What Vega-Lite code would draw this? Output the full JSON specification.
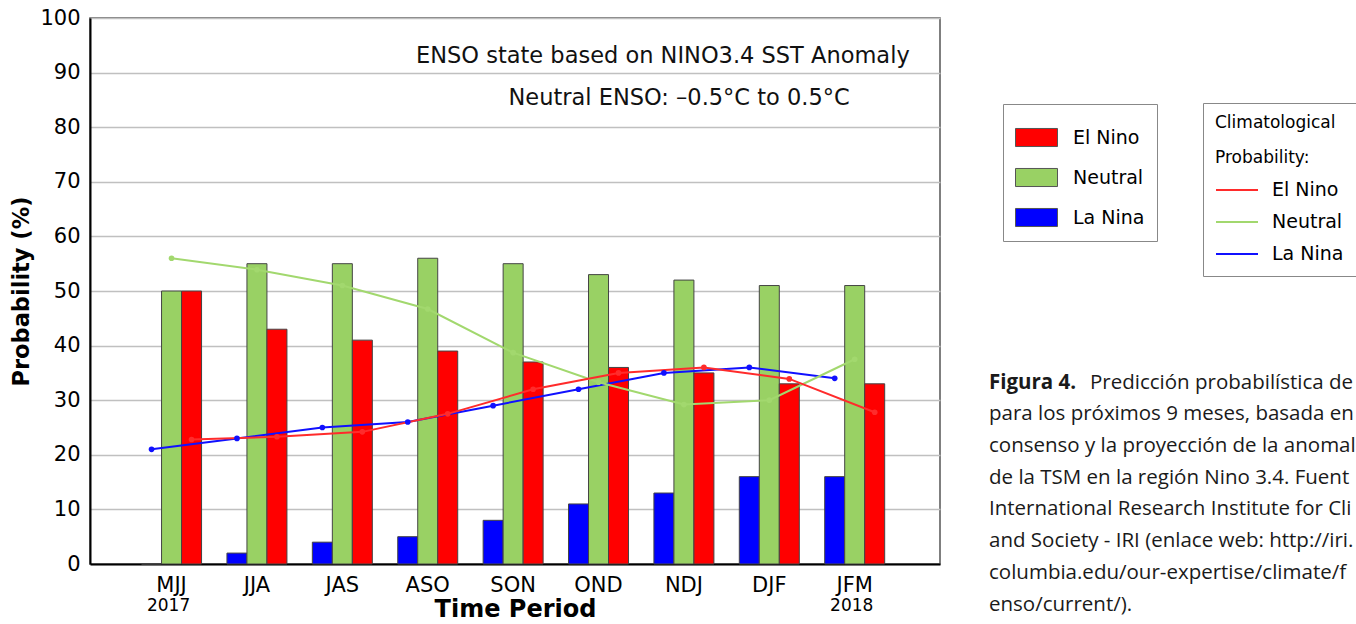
{
  "$schema": "https://vega.github.io/schema/vega-lite/v6.json",
  "background": "white",
  "padding": {"left": 10, "top": 6, "right": 0, "bottom": 0},
  "bounds": "flush",
  "spacing": 49,
  "config": {
    "font": "DejaVu Sans",
    "view": {"stroke": null},
    "axis": {"labelFont": "DejaVu Sans", "titleFont": "DejaVu Sans", "labelColor": "#000", "titleColor": "#000"},
    "legend": {"labelFont": "DejaVu Sans", "titleFont": "DejaVu Sans", "labelColor": "#000", "titleColor": "#000"}
  },
  "datasets": {
    "forecast": [
      {"period": "MJJ", "category": "La Nina", "prob": 0},
      {"period": "MJJ", "category": "Neutral", "prob": 50},
      {"period": "MJJ", "category": "El Nino", "prob": 50},
      {"period": "JJA", "category": "La Nina", "prob": 2},
      {"period": "JJA", "category": "Neutral", "prob": 55},
      {"period": "JJA", "category": "El Nino", "prob": 43},
      {"period": "JAS", "category": "La Nina", "prob": 4},
      {"period": "JAS", "category": "Neutral", "prob": 55},
      {"period": "JAS", "category": "El Nino", "prob": 41},
      {"period": "ASO", "category": "La Nina", "prob": 5},
      {"period": "ASO", "category": "Neutral", "prob": 56},
      {"period": "ASO", "category": "El Nino", "prob": 39},
      {"period": "SON", "category": "La Nina", "prob": 8},
      {"period": "SON", "category": "Neutral", "prob": 55},
      {"period": "SON", "category": "El Nino", "prob": 37},
      {"period": "OND", "category": "La Nina", "prob": 11},
      {"period": "OND", "category": "Neutral", "prob": 53},
      {"period": "OND", "category": "El Nino", "prob": 36},
      {"period": "NDJ", "category": "La Nina", "prob": 13},
      {"period": "NDJ", "category": "Neutral", "prob": 52},
      {"period": "NDJ", "category": "El Nino", "prob": 35},
      {"period": "DJF", "category": "La Nina", "prob": 16},
      {"period": "DJF", "category": "Neutral", "prob": 51},
      {"period": "DJF", "category": "El Nino", "prob": 33},
      {"period": "JFM", "category": "La Nina", "prob": 16},
      {"period": "JFM", "category": "Neutral", "prob": 51},
      {"period": "JFM", "category": "El Nino", "prob": 33}
    ],
    "climatology": [
      {"period": "MJJ", "i": 1, "series": "La Nina", "clim": 21},
      {"period": "MJJ", "i": 1, "series": "Neutral", "clim": 56},
      {"period": "MJJ", "i": 1, "series": "El Nino", "clim": 22.8},
      {"period": "JJA", "i": 2, "series": "La Nina", "clim": 23},
      {"period": "JJA", "i": 2, "series": "Neutral", "clim": 53.9},
      {"period": "JJA", "i": 2, "series": "El Nino", "clim": 23.3},
      {"period": "JAS", "i": 3, "series": "La Nina", "clim": 25},
      {"period": "JAS", "i": 3, "series": "Neutral", "clim": 51},
      {"period": "JAS", "i": 3, "series": "El Nino", "clim": 24.2},
      {"period": "ASO", "i": 4, "series": "La Nina", "clim": 26},
      {"period": "ASO", "i": 4, "series": "Neutral", "clim": 46.7},
      {"period": "ASO", "i": 4, "series": "El Nino", "clim": 27.5},
      {"period": "SON", "i": 5, "series": "La Nina", "clim": 29},
      {"period": "SON", "i": 5, "series": "Neutral", "clim": 38.7},
      {"period": "SON", "i": 5, "series": "El Nino", "clim": 32},
      {"period": "OND", "i": 6, "series": "La Nina", "clim": 32},
      {"period": "OND", "i": 6, "series": "Neutral", "clim": 33.3},
      {"period": "OND", "i": 6, "series": "El Nino", "clim": 35},
      {"period": "NDJ", "i": 7, "series": "La Nina", "clim": 35},
      {"period": "NDJ", "i": 7, "series": "Neutral", "clim": 29.2},
      {"period": "NDJ", "i": 7, "series": "El Nino", "clim": 36},
      {"period": "DJF", "i": 8, "series": "La Nina", "clim": 36},
      {"period": "DJF", "i": 8, "series": "Neutral", "clim": 30},
      {"period": "DJF", "i": 8, "series": "El Nino", "clim": 33.9},
      {"period": "JFM", "i": 9, "series": "La Nina", "clim": 34},
      {"period": "JFM", "i": 9, "series": "Neutral", "clim": 37.5},
      {"period": "JFM", "i": 9, "series": "El Nino", "clim": 27.8}
    ],
    "years": [
      {"period": "MJJ", "year": "2017"},
      {"period": "JFM", "year": "2018"}
    ],
    "note1": [{"period": "JFM", "v": 93, "text": "ENSO state based on NINO3.4 SST Anomaly"}],
    "note2": [{"period": "JFM", "v": 85.4, "text": "Neutral ENSO: –0.5°C to 0.5°C"}],
    "caption": [
      {"line": 1, "part": "bold", "text": "Figura 4."},
      {"line": 1, "part": "first", "text": "Predicción probabilística del ENSO"},
      {"line": 2, "part": "body", "text": "para los próximos 9 meses, basada en el"},
      {"line": 3, "part": "body", "text": "consenso y la proyección de la anomalía"},
      {"line": 4, "part": "body", "text": "de la TSM en la región Nino 3.4. Fuente:"},
      {"line": 5, "part": "body", "text": "International Research Institute for Climate"},
      {"line": 6, "part": "body", "text": "and Society - IRI (enlace web: http://iri."},
      {"line": 7, "part": "body", "text": "columbia.edu/our-expertise/climate/forecasts/"},
      {"line": 8, "part": "body", "text": "enso/current/)."}
    ]
  },
  "hconcat": [
    {
      "width": 850,
      "height": 546,
      "view": {"stroke": "#555", "strokeWidth": 1.5},
      "layer": [
        {
          "data": {"name": "forecast"},
          "mark": {"type": "bar", "stroke": "#444", "strokeWidth": 1},
          "encoding": {
            "x": {
              "field": "period", "type": "nominal",
              "sort": ["MJJ", "JJA", "JAS", "ASO", "SON", "OND", "NDJ", "DJF", "JFM"],
              "scale": {"paddingInner": 0, "paddingOuter": 0.477, "align": 0.477},
              "title": "Time Period",
              "axis": {"labelAngle": 0, "ticks": false, "domainColor": "#000", "domainWidth": 2, "labelFontSize": 21, "labelPadding": 10, "titleFontSize": 24, "titleFontWeight": "bold", "titlePadding": 2, "grid": false}
            },
            "xOffset": {"field": "category", "type": "nominal", "scale": {"domain": ["La Nina", "Neutral", "El Nino"], "paddingInner": 0, "paddingOuter": 0.635}},
            "y": {
              "field": "prob", "type": "quantitative",
              "scale": {"domain": [0, 100], "nice": false},
              "title": "Probability (%)",
              "axis": {"values": [0, 10, 20, 30, 40, 50, 60, 70, 80, 90, 100], "grid": true, "gridColor": "#c0c0c0", "gridWidth": 1.6, "ticks": false, "domainColor": "#000", "domainWidth": 2, "labelFontSize": 21, "labelPadding": 10, "titleFontSize": 22.5, "titleFontWeight": "bold", "titlePadding": 6}
            },
            "fill": {
              "field": "category", "type": "nominal",
              "scale": {"domain": ["El Nino", "Neutral", "La Nina"], "range": ["#ff0000", "#99d164", "#0000ff"]},
              "legend": {
                "title": null, "orient": "none", "legendX": 913, "legendY": 86,
                "symbolType": "M-1,-0.43L1,-0.43L1,0.43L-1,0.43Z", "symbolSize": 1764,
                "symbolStrokeColor": "#555", "symbolStrokeWidth": 1, "symbolOpacity": 1,
                "labelFontSize": 19, "labelOffset": 15, "rowPadding": 7, "padding": 12,
                "strokeColor": "#888", "fillColor": "white"
              }
            }
          }
        },
        {
          "data": {"name": "climatology"},
          "mark": {"type": "line", "strokeWidth": 2},
          "encoding": {
            "x": {"field": "period", "type": "nominal", "sort": ["MJJ", "JJA", "JAS", "ASO", "SON", "OND", "NDJ", "DJF", "JFM"], "title": "Time Period"},
            "xOffset": {"field": "series", "type": "nominal", "scale": {"domain": ["La Nina", "Neutral", "El Nino"]}},
            "y": {"field": "clim", "type": "quantitative", "title": "Probability (%)"},
            "order": {"field": "i", "type": "quantitative"},
            "stroke": {
              "field": "series", "type": "nominal",
              "sort": ["El Nino", "Neutral", "La Nina"],
              "scale": {"range": ["#ff2b2b", "#a2d86e", "#1010ff"]},
              "legend": {
                "title": ["Climatological", "Probability:"], "orient": "none", "legendX": 1113, "legendY": 85,
                "symbolType": "stroke", "symbolSize": 1764, "symbolStrokeWidth": 2,
                "titleFontSize": 17, "titleFontWeight": "normal", "titleLineHeight": 35, "titlePadding": 1,
                "labelFontSize": 19, "labelOffset": 13, "rowPadding": -5.5, "padding": 12,
                "strokeColor": "#888", "fillColor": "white"
              }
            }
          }
        },
        {
          "data": {"name": "climatology"},
          "mark": {"type": "point", "filled": true, "size": 32, "opacity": 1},
          "encoding": {
            "x": {"field": "period", "type": "nominal", "sort": ["MJJ", "JJA", "JAS", "ASO", "SON", "OND", "NDJ", "DJF", "JFM"], "title": "Time Period"},
            "xOffset": {"field": "series", "type": "nominal", "scale": {"domain": ["La Nina", "Neutral", "El Nino"]}},
            "y": {"field": "clim", "type": "quantitative", "title": "Probability (%)"},
            "color": {"field": "series", "type": "nominal", "scale": {"domain": ["El Nino", "Neutral", "La Nina"], "range": ["#ff2b2b", "#a2d86e", "#1010ff"]}, "legend": null}
          }
        },
        {
          "data": {"name": "note1"},
          "mark": {"type": "text", "align": "right", "baseline": "middle", "fontSize": 22.5, "dx": 55, "color": "#111"},
          "encoding": {
            "x": {"field": "period", "type": "nominal", "sort": ["MJJ", "JJA", "JAS", "ASO", "SON", "OND", "NDJ", "DJF", "JFM"], "title": "Time Period"},
            "y": {"field": "v", "type": "quantitative", "title": "Probability (%)"},
            "text": {"field": "text"}
          }
        },
        {
          "data": {"name": "note2"},
          "mark": {"type": "text", "align": "right", "baseline": "middle", "fontSize": 22.5, "dx": -5, "color": "#111"},
          "encoding": {
            "x": {"field": "period", "type": "nominal", "sort": ["MJJ", "JJA", "JAS", "ASO", "SON", "OND", "NDJ", "DJF", "JFM"], "title": "Time Period"},
            "y": {"field": "v", "type": "quantitative", "title": "Probability (%)"},
            "text": {"field": "text"}
          }
        },
        {
          "data": {"name": "years"},
          "mark": {"type": "text", "align": "center", "baseline": "middle", "fontSize": 17, "dx": -3, "color": "#000"},
          "encoding": {
            "x": {"field": "period", "type": "nominal", "sort": ["MJJ", "JJA", "JAS", "ASO", "SON", "OND", "NDJ", "DJF", "JFM"], "title": "Time Period"},
            "y": {"datum": -7.7, "type": "quantitative"},
            "text": {"field": "year"}
          }
        }
      ]
    },
    {
      "width": 367,
      "height": 546,
      "view": {"stroke": null},
      "data": {"name": "caption"},
      "encoding": {
        "y": {"field": "line", "type": "quantitative", "scale": {"domain": [-10.69, 6.53], "reverse": true, "nice": false, "zero": false}, "axis": null},
        "x": {"value": 0},
        "text": {"field": "text"}
      },
      "layer": [
        {
          "transform": [{"filter": "datum.part == 'body'"}],
          "mark": {"type": "text", "align": "left", "baseline": "alphabetic", "font": "Open Sans", "fontSize": 20.5, "color": "#1a1a1a", "limit": 367, "ellipsis": "\u200b"}
        },
        {
          "transform": [{"filter": "datum.part == 'first'"}],
          "mark": {"type": "text", "align": "left", "baseline": "alphabetic", "font": "Open Sans", "fontSize": 20.5, "color": "#1a1a1a", "dx": 101, "limit": 266, "ellipsis": "\u200b"}
        },
        {
          "transform": [{"filter": "datum.part == 'bold'"}],
          "mark": {"type": "text", "align": "left", "baseline": "alphabetic", "font": "Open Sans", "fontSize": 20.5, "fontWeight": "bold", "color": "#1a1a1a"}
        }
      ]
    }
  ]
}
